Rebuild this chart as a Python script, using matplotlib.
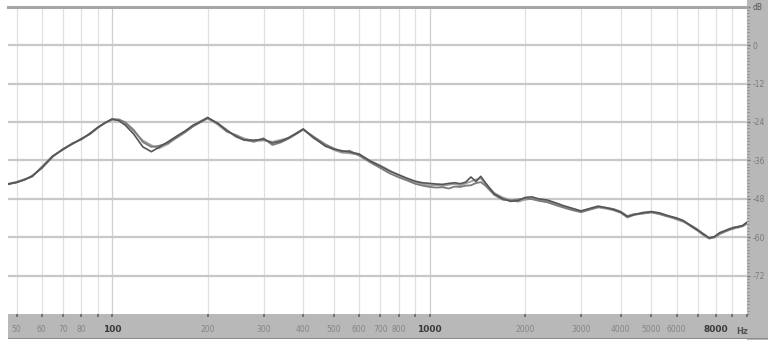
import matplotlib
matplotlib.use('Agg')
import matplotlib.pyplot as plt
from matplotlib.patches import Rectangle
from matplotlib.ticker import FixedLocator, MultipleLocator

# frequency (Hz) shared by the three measurements
freq = [47, 50, 53, 56, 60, 65, 70, 75, 80, 85,
        90, 95, 100, 105, 110, 117, 125, 133, 140, 150,
        160, 170, 180, 190, 200, 215, 230, 245, 260, 280,
        300, 320, 340, 360, 380, 400, 430, 470, 500, 530,
        560, 600, 650, 700, 750, 800, 850, 900, 950, 1000,
        1050, 1100, 1150, 1200, 1250, 1300, 1350, 1400, 1450, 1500,
        1600, 1700, 1800, 1900, 2000, 2100, 2200, 2350, 2500, 2650,
        2800, 3000, 3200, 3400, 3600, 3800, 4000, 4200, 4400, 4700,
        5000, 5300, 5600, 6000, 6300, 6700, 7000, 7300, 7600, 7900,
        8200, 8500, 8800, 9100, 9400, 9700, 10000]

level_a = [-43.4, -42.9, -42.0, -41.0, -38.3, -34.7, -32.6, -30.8, -29.4, -27.7,
           -25.8, -24.3, -23.1, -23.6, -25.0, -27.8, -31.8, -33.3, -32.0, -30.2,
           -28.4, -26.8, -25.0, -23.9, -22.6, -24.4, -26.8, -28.3, -29.6, -29.7,
           -29.4, -30.6, -30.0, -28.9, -27.6, -26.2, -28.8, -31.6, -32.5, -33.0,
           -33.4, -34.0, -36.2, -37.8, -39.4, -40.5, -41.6, -42.5, -43.0, -43.2,
           -43.4, -43.5, -43.2, -43.0, -43.3, -42.8, -41.2, -42.6, -41.0, -43.0,
           -46.5, -48.0, -48.8, -48.6, -47.6, -47.4, -48.0, -48.4, -49.3, -50.2,
           -50.9, -51.8, -51.0, -50.3, -50.8, -51.4, -52.2, -53.6, -53.0, -52.3,
           -52.0, -52.4, -53.2, -54.0, -54.8, -56.6, -57.8, -59.0, -60.2, -59.8,
           -58.6, -58.0, -57.4, -56.9, -56.8, -56.3, -55.3]

level_b = [-43.5, -42.9, -42.1, -40.8, -38.5, -34.9, -32.4, -30.9, -29.2, -27.9,
           -25.9, -24.2, -23.3, -23.2, -24.1, -26.5, -30.3, -31.8, -31.5, -30.6,
           -28.9, -27.2, -25.4, -24.1, -22.9, -24.4, -26.5, -28.6, -29.6, -30.2,
           -29.1, -31.2, -30.4, -29.2, -27.8, -26.4, -28.5, -31.0, -32.3, -33.3,
           -33.0, -34.5, -36.6, -38.4, -40.1, -41.3, -42.3, -43.3, -43.9, -44.3,
           -44.5, -44.4, -44.8, -44.2, -44.3, -43.9, -43.8, -43.1, -42.8, -43.9,
           -46.8, -48.3, -48.5, -48.2, -47.9, -48.1, -48.6, -49.1, -50.0, -50.8,
           -51.5, -52.2, -51.4, -50.6, -50.8, -51.2, -52.0, -53.4, -52.8, -52.6,
           -52.2, -52.8, -53.5, -54.2, -55.0, -56.8, -58.0, -59.4, -60.4, -60.0,
           -58.9, -58.3, -57.6, -57.3, -56.6, -56.5, -55.6]

level_c = [-43.3, -42.7, -41.9, -41.1, -38.0, -34.6, -32.7, -30.6, -29.5, -27.6,
           -25.7, -24.4, -23.0, -23.4, -24.6, -26.9, -29.8, -31.3, -32.3, -30.9,
           -28.7, -26.9, -25.2, -23.7, -22.8, -24.8, -27.1, -28.0, -29.1, -30.0,
           -29.8, -30.2, -29.6, -29.0, -27.5, -26.3, -29.0, -31.3, -32.8, -33.6,
           -33.8, -34.3, -36.1, -37.6, -39.2, -40.8, -42.0, -42.8, -43.4, -43.8,
           -43.7, -44.0, -43.6, -43.4, -43.8, -43.2, -42.6, -42.0, -41.6, -43.4,
           -46.2, -47.6, -48.4, -48.9, -48.3, -47.9, -48.4, -48.8, -49.6, -50.4,
           -51.2, -51.9, -51.3, -50.7, -51.1, -51.6, -52.4, -53.9, -53.1, -52.6,
           -52.3, -52.7, -53.3, -54.5, -55.2, -56.4, -57.6, -59.2, -60.4, -60.1,
           -59.1, -58.3, -57.8, -57.2, -57.0, -56.6, -55.8]

x_ticks = [50, 60, 70, 80, 90, 100, 200, 300, 400, 500, 600, 700, 800, 900,
           1000, 2000, 3000, 4000, 5000, 6000, 7000, 8000, 9000, 10000]
x_labels = ['50', '60', '70', '80', '', '100', '200', '300', '400', '500', '600',
            '700', '800', '', '1000', '2000', '3000', '4000', '5000', '6000', '',
            '8000', '', '']
y_ticks = [12, 0, -12, -24, -36, -48, -60, -72]
y_labels = ['dB', '0', '-12', '-24', '-36', '-48', '-60', '-72']

W, H = 768, 340
fig = plt.figure(figsize=(W / 100, H / 100), dpi=100)

# gray side panels (scale areas)
fig.patches.append(Rectangle((747 / W, 0), 21 / W, 1, transform=fig.transFigure,
                             facecolor='#b8b8b8', edgecolor='none', zorder=-2))
fig.patches.append(Rectangle((8 / W, 1 / H), 760 / W, 26 / H, transform=fig.transFigure,
                             facecolor='#b8b8b8', edgecolor='none', zorder=-2))
fig.patches.append(Rectangle((8 / W, 1 / H), 760 / W, 1.2 / H, transform=fig.transFigure,
                             facecolor='#8c8c8c', edgecolor='none', zorder=-1))

ax = fig.add_axes([8 / W, 1 - 314 / H, 739 / W, 307.3 / H])
ax.set_xscale('log')
ax.set_xlim(47, 10000)
ax.set_ylim(-84, 12)

for s in ['left', 'right', 'bottom']:
    ax.spines[s].set_visible(False)
ax.spines['top'].set_color('#a6a6a6')
ax.spines['top'].set_linewidth(2.2)

ax.xaxis.set_major_locator(FixedLocator(x_ticks))
ax.xaxis.set_minor_locator(FixedLocator([]))
ax.set_xticklabels(x_labels)
ax.tick_params(axis='x', direction='out', length=2, width=1.2, color='#666666',
               pad=6, labelsize=5.5, labelcolor='#858585')
for lab in ax.get_xticklabels():
    if lab.get_text() in ('100', '1000', '8000'):
        lab.set_fontweight('bold')
        lab.set_color('#3a3a3a')
        lab.set_fontsize(6.5)

ax.yaxis.tick_right()
ax.set_yticks(y_ticks)
ax.set_yticklabels(y_labels)
ax.yaxis.set_minor_locator(MultipleLocator(1))
ax.tick_params(axis='y', which='major', direction='out', length=2, width=1,
               color='#777777', pad=2, labelsize=5.5, labelcolor='#7a7a7a')
ax.tick_params(axis='y', which='minor', direction='out', length=1.5, width=0.7,
               color='#8a8a8a')
ax.get_yticklabels()[0].set_color('#555555')

for f in x_ticks:
    c = '#cfcfcf' if f in (100, 1000) else '#e0e0e0'
    ax.axvline(f, color=c, lw=0.9, zorder=1)
for v in y_ticks[1:]:
    ax.axhline(v, color='#c8c8c8', lw=1.6, zorder=1)

ax.plot(freq, level_c, color='#a0a0a0', lw=1.3, zorder=3)
ax.plot(freq, level_b, color='#7c7c7c', lw=1.3, zorder=3)
ax.plot(freq, level_a, color='#555555', lw=1.2, zorder=3)

fig.text(742 / W, 1 - 331 / H, 'Hz', fontsize=6, fontweight='bold', color='#555555',
         ha='center', va='center')

fig.savefig('out.png', dpi=100)
